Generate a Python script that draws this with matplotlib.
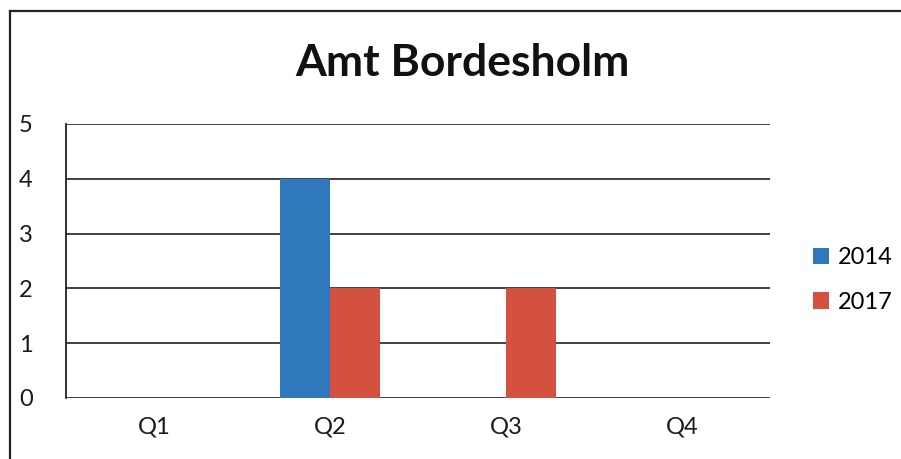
import matplotlib.pyplot as plt
import matplotlib
import numpy as np
from matplotlib.lines import Line2D

matplotlib.use("Agg")
matplotlib.rcParams.update({
    'font.family': ['Lato', 'DejaVu Sans'],
})

quarters = ["Q1", "Q2", "Q3", "Q4"]
values_2014 = [0, 4, 0, 0]
values_2017 = [0, 2, 2, 0]
series_labels = ["2014", "2017"]
y_ticks = [0, 1, 2, 3, 4, 5]

fig = plt.figure(figsize=(9.01, 4.59), dpi=100)
ax = fig.add_axes([66 / 901, 61 / 459, 704 / 901, 274 / 459])

x = np.arange(len(quarters))
w = 50 / 176
ax.bar(x - w / 2, values_2014, w, color="#2f78bc", label=series_labels[0], zorder=3)
ax.bar(x + w / 2, values_2017, w, color="#d3513e", label=series_labels[1], zorder=3)

ax.set_xlim(-0.5, 3.5)
ax.set_ylim(0, 5)
ax.set_yticks(y_ticks)
ax.set_xticks(x)
ax.set_xticklabels(quarters)
ax.yaxis.grid(True, color="#333333", linewidth=1.3, zorder=0)
ax.tick_params(axis="both", length=0, labelsize=17, colors="#1a1a1a")
ax.tick_params(axis="y", pad=24)
ax.tick_params(axis="x", pad=13)
for side in ["top", "right", "bottom"]:
    ax.spines[side].set_visible(False)
ax.spines["left"].set_color("#222222")
ax.spines["left"].set_linewidth(1.3)

fig.text(462 / 901, 1 - 63 / 459, "Amt Bordesholm", ha="center", va="center",
         fontsize=32, fontweight="bold", color="#111111")

ax.legend(loc="center left", bbox_to_anchor=(801 / 901, 1 - 280 / 459),
          bbox_transform=fig.transFigure, frameon=False, fontsize=17,
          handlelength=0.7, handleheight=0.7, handletextpad=0.35,
          labelspacing=1.0, borderpad=0)

# chart frame (top and left edges only)
top = 1 - 11 / 459
left = 10 / 901
fig.add_artist(Line2D([left, 1.05], [top, top], transform=fig.transFigure,
                      color="#222222", linewidth=1.6))
fig.add_artist(Line2D([left, left], [-0.05, top], transform=fig.transFigure,
                      color="#222222", linewidth=1.6))

plt.savefig("out.png", dpi=100)
